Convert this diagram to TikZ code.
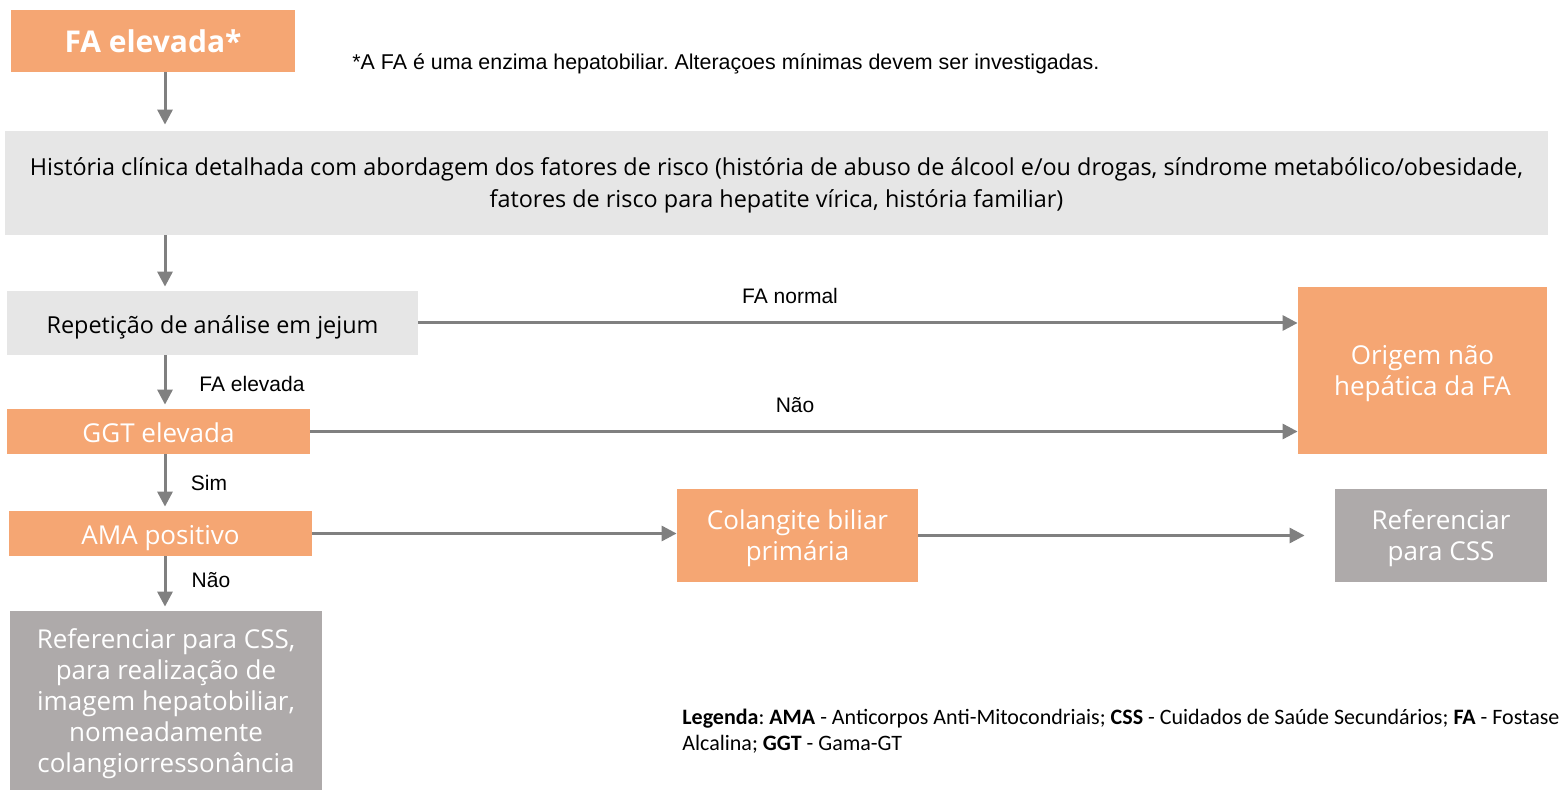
\documentclass[tikz,border=0pt]{standalone}
\usepackage{fontspec}
\setmainfont{Open Sans}
\newfontfamily\arialfont{Liberation Sans}
\newfontfamily\calibrifont{Carlito}
\usetikzlibrary{arrows.meta}
\definecolor{laranja}{HTML}{F5A673}
\definecolor{cinzaclaro}{HTML}{E6E6E6}
\definecolor{cinzaescuro}{HTML}{AEAAAA}
\definecolor{seta}{HTML}{808080}
\frenchspacing

\begin{document}
\begin{tikzpicture}[x=0.5pt,y=-0.5pt,
    box/.style={inner sep=0pt, align=center, font=\fontsize{13}{15.5}\selectfont},
    one/.style={text height=13pt, text depth=2pt},
    multi/.style={text depth=-4.5pt},
    sz/.style 2 args={minimum width=#1*0.5pt, minimum height=#2*0.5pt},
    orange/.style={box, fill=laranja, text=white},
    light/.style={box, fill=cinzaclaro, text=black, font=\fontsize{11.7}{16}\selectfont},
    dark/.style={box, fill=cinzaescuro, text=white},
    lbl/.style={font=\arialfont\fontsize{10.5}{12}\selectfont},
    arr/.style={-{Triangle[length=7.5pt,width=7.5pt]}, draw=seta, line width=1.5pt}]
  \useasboundingbox (0,0) rectangle (1561,790);

  % caixas
  \node (fa) [orange, sz={284}{62}, font=\bfseries\fontsize{15}{18}\selectfont] at (153,41) {FA elevada*};
  \node (hist) [light, multi, sz={1543}{104}] at (776.5,183)
    {História clínica detalhada com abordagem dos fatores de risco (história de abuso de álcool e/ou drogas, síndrome metabólico/obesidade,\\
     fatores de risco para hepatite vírica, história familiar)};
  \node (rep) [light, one, sz={411}{64}] at (212.5,323) {Repetição de análise em jejum};
  \node (orig) [orange, multi, sz={249}{167}] at (1422.5,370.5) {Origem não\\hepática da FA};
  \node (ggt) [orange, one, sz={303}{45}] at (158.5,431.5) {GGT elevada};
  \node (ama) [orange, one, sz={303}{45}] at (160.5,533.5) {AMA positivo};
  \node (col) [orange, multi, sz={241}{93}] at (797.5,535.5) {Colangite biliar\\primária};
  \node (ref) [dark, multi, sz={212}{93}] at (1441,535.5) {Referenciar\\para CSS};
  \node (img) [dark, multi, sz={312}{179}] at (166,700.5)
    {Referenciar para CSS,\\para realização de\\imagem hepatobiliar,\\nomeadamente\\colangiorressonância};

  % textos
  \node (nota) [anchor=west, inner sep=0pt, font=\arialfont\fontsize{10.7}{12}\selectfont] at (352,64)
    {*A FA é uma enzima hepatobiliar. Alteraçoes mínimas devem ser investigadas.};
  \node (leg) [anchor=west, align=left, inner sep=0pt, font=\calibrifont\fontsize{11}{13}\selectfont] at (682,731)
    {\textbf{Legenda}: \textbf{AMA} - Anticorpos Anti-Mitocondriais; \textbf{CSS} - Cuidados de Saúde Secundários; \textbf{FA} - Fostase\\
     Alcalina; \textbf{GGT} - Gama-GT};

  % setas
  \coordinate (eixo) at (165,0);
  \draw[arr, shorten >=3pt] (fa.south -| eixo) -- (hist.north -| eixo);
  \draw[arr, shorten >=2pt] (hist.south -| eixo) -- (rep.north -| eixo);
  \draw[arr, shorten >=2pt] (rep.south -| eixo) -- (ggt.north -| eixo);
  \draw[arr, shorten >=2pt] (ggt.south -| eixo) -- (ama.north -| eixo);
  \draw[arr, shorten >=2pt] (ama.south -| eixo) -- (img.north -| eixo);
  \draw[arr] (rep.east) -- (orig.west |- rep.east);
  \draw[arr] (ggt.east) -- (orig.west |- ggt.east);
  \draw[arr] (ama.east) -- (col.west |- ama.east);
  \draw[arr, shorten >=15pt] (col.east) -- (ref.west);

  % rotulos
  \node (l1) [lbl] at (790,296) {FA normal};
  \node (l2) [lbl] at (252,384) {FA elevada};
  \node (l3) [lbl] at (795,405) {Não};
  \node (l4) [lbl] at (209,483) {Sim};
  \node (l5) [lbl] at (211,580) {Não};
\end{tikzpicture}
\end{document}
